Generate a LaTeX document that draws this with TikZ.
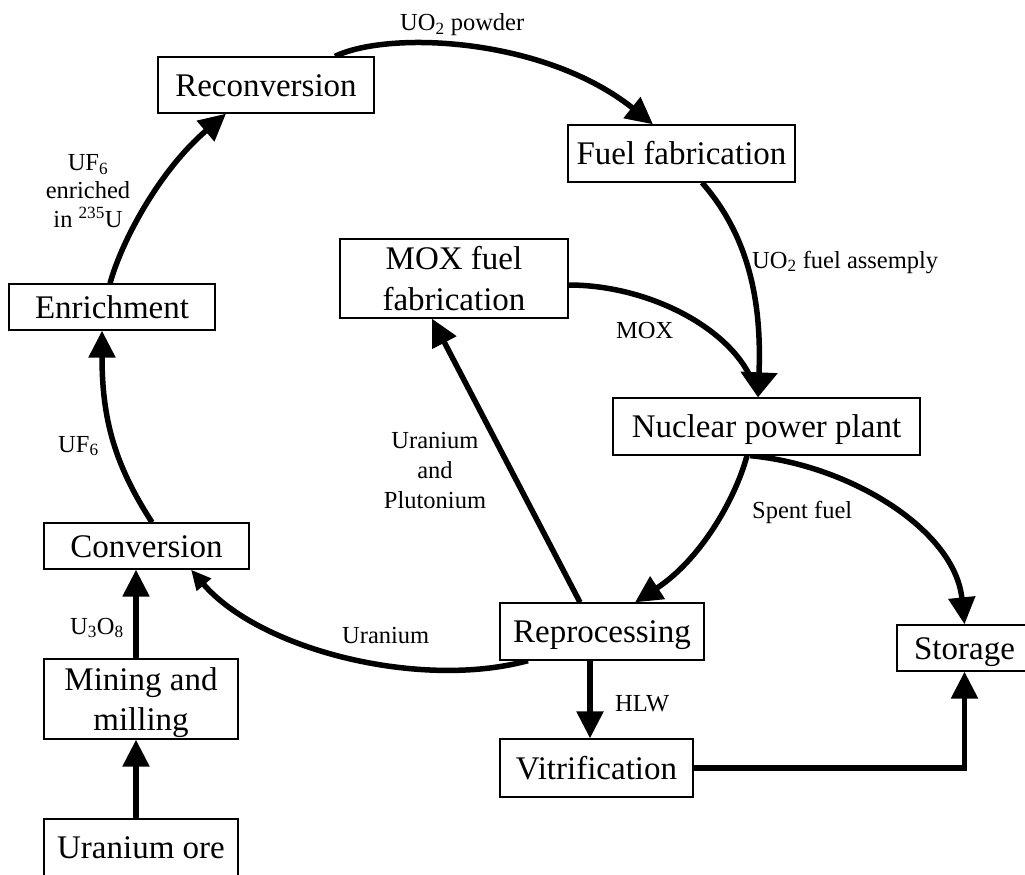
\documentclass[tikz,border=0pt]{standalone}
\usepackage{fontspec}
\setmainfont{Liberation Serif}
\usetikzlibrary{arrows.meta,backgrounds}
\begin{document}
\begin{tikzpicture}[x=1pt,y=-1pt,
  box/.style={draw, line width=1.3pt, fill=white, inner sep=0pt, align=center,
    font=\fontsize{33}{40.5}\selectfont},
  stage/.style={box, text height=22pt, text depth=0pt},
  flow/.style={line width=5.5pt, -{Triangle[length=27pt,width=26pt]}},
  lbl/.style={inner sep=0pt, align=center, font=\fontsize{24.5}{28.5}\selectfont}]
\useasboundingbox (0,0) rectangle (1025,875);

% process stages
\node[stage, minimum width=216pt, minimum height=56pt] (recon) at (266,85) {Reconversion};
\node[stage, minimum width=227pt, minimum height=57pt] (fuel) at (681.5,153.5) {Fuel fabrication};
\node[box, minimum width=228pt, minimum height=79pt] (mox) at (454,278.5) {MOX fuel\\fabrication};
\node[stage, minimum width=206pt, minimum height=46pt] (enr) at (112,307) {Enrichment};
\node[stage, minimum width=205pt, minimum height=46pt] (conv) at (146.5,546) {Conversion};
\node[box, minimum width=194pt, minimum height=80pt] (mine) at (141,699) {Mining and\\\smash{milling}};
\node[stage, minimum width=194pt, minimum height=57pt] (ore) at (141,847.5) {Uranium ore};
\node[stage, minimum width=307pt, minimum height=57pt] (npp) at (766.5,426.5) {Nuclear power plant};
\node[stage, minimum width=204pt, minimum height=57pt] (repro) at (602,631.5) {Reprocessing};
\node[stage, minimum width=193pt, minimum height=58pt] (vit) at (596.5,768) {Vitrification};
\node[stage, minimum width=135pt, minimum height=46pt] (store) at (964.5,648) {Storage};

% material labels
\node[lbl, anchor=base west] (lpowder) at (400,31) {UO\textsubscript{2} powder};
\node[lbl, anchor=base west] (lassembly) at (752,268) {UO\textsubscript{2} fuel assemply};
\node[lbl, anchor=base west] (lmox) at (616,338) {MOX};
\node[lbl, anchor=base west] (lspent) at (752,518) {Spent fuel};
\node[lbl, anchor=base west] (luran) at (342,643) {Uranium};
\node[lbl, anchor=base west] (lhlw) at (615,711) {HLW};
\node[lbl, anchor=base west] (lu3o8) at (70,634) {U\textsubscript{3}O\textsubscript{8}};
\node[lbl, anchor=base west] (luf6) at (58,452) {UF\textsubscript{6}};
\node[lbl] (lenriched) at (88,191) {UF\textsubscript{6}\\enriched\\in \textsuperscript{235}U};
\node[lbl, font=\fontsize{24.5}{30}\selectfont] (lupu) at (435,470.5) {Uranium\\and\\Plutonium};

% material flows
\begin{pgfonlayer}{background}
\draw[flow] ([xshift=-5pt]ore.north) -- ([xshift=-5pt]mine.south);
\draw[flow] ([xshift=-5pt]mine.north) -- ([xshift=-10.5pt]conv.south);
\draw[flow] ([xshift=5.5pt]conv.north) .. controls (115,465) and (102,420) .. ([xshift=-10pt]enr.south);
\draw[flow] ([xshift=-2pt]enr.north) .. controls (122,240) and (160,170) .. ([xshift=-40pt]recon.south);
\draw[flow] ([xshift=69pt]recon.north) .. controls (390,30) and (545,38) .. ([xshift=-28.5pt]fuel.north);
\draw[flow, -{Triangle[length=25pt,width=36pt]}] ([xshift=20.5pt]fuel.south) .. controls (748,235) and (762,300) .. ([xshift=-8.5pt]npp.north);
\draw[line width=5.5pt, shorten >=12pt] ([yshift=-6.5pt]mox.east) .. controls (650,285) and (735,330) .. ([xshift=-8.5pt]npp.north);
\draw[flow] ([xshift=-19.5pt]npp.south) .. controls (735,500) and (700,560) .. ([xshift=33pt]repro.north);
\draw[flow] ([xshift=-16.5pt]npp.south) .. controls (850,465) and (955,530) .. (store.north);
\draw[flow] ([xshift=-22pt]repro.north) -- ([xshift=-22pt]mox.south);
\draw[flow, -{Triangle[length=20pt,width=18pt]}] ([xshift=-74pt]repro.south) .. controls (420,690) and (260,650) .. ([xshift=44.5pt]conv.south);
\draw[flow] ([xshift=-12pt]repro.south) -- ([xshift=-6.5pt]vit.north);
\draw[flow] (vit.east) -| (store.south);
\end{pgfonlayer}
\end{tikzpicture}
\end{document}
